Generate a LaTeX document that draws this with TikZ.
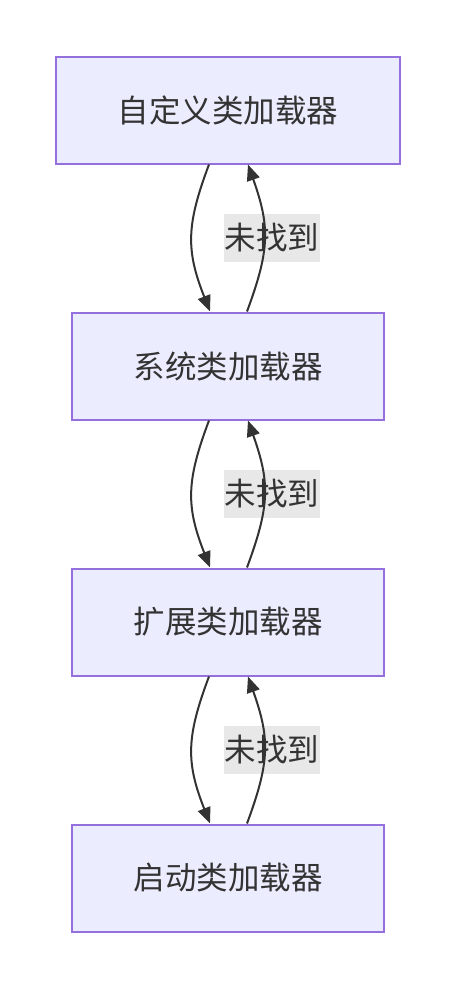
\documentclass[tikz,border=0pt]{standalone}
\usepackage{fontspec}
\newfontfamily\cjk{Noto Sans CJK SC}
\usetikzlibrary{arrows.meta,calc}
\definecolor{boxfill}{HTML}{ECECFF}
\definecolor{boxline}{HTML}{9370DB}
\definecolor{ink}{HTML}{333333}
\definecolor{lblbg}{HTML}{E8E8E8}
\begin{document}
\begin{tikzpicture}[x=1pt,y=-1pt,
  loader/.style={draw=boxline,fill=boxfill,line width=2pt,minimum height=107pt,inner sep=0pt,
    font=\cjk\fontsize{31.5}{36}\selectfont,text=ink},
  lbl/.style={fill=lblbg,minimum width=96pt,minimum height=48pt,inner sep=0pt,
    font=\cjk\fontsize{31.5}{36}\selectfont,text=ink},
  conn/.style={draw=ink,line width=2pt,-{Triangle[length=16pt,width=13pt]}}]
\useasboundingbox (0,0) rectangle (456,988);
\node[loader,minimum width=344pt] (a) at (228,110) {自定义类加载器};
\node[loader,minimum width=312pt] (b) at (228,366) {系统类加载器};
\node[loader,minimum width=312pt] (c) at (228,622) {扩展类加载器};
\node[loader,minimum width=312pt] (d) at (228,878) {启动类加载器};
\foreach \u/\l/\y in {a/b/238,b/c/494,c/d/750}{
  \coordinate (\u d1) at ($(\u.south)+(-19,0)$);
  \coordinate (\l d2) at ($(\l.north)+(-18,0)$);
  \coordinate (\l u1) at ($(\l.north)+(19,0)$);
  \coordinate (\u u2) at ($(\u.south)+(20,0)$);
  \draw[conn] (\u d1) .. controls ($(\u d1)+(-23,61)$) and ($(\l d2)+(-24,-61)$) .. (\l d2);
  \node[lbl] (\u lab) at (272,\y) {未找到};
  \draw[conn] (\l u1) .. controls ($(\l u1)+(23,-62)$) and ($(\u u2)+(22,62)$) .. (\u u2);
}
\end{tikzpicture}
\end{document}
